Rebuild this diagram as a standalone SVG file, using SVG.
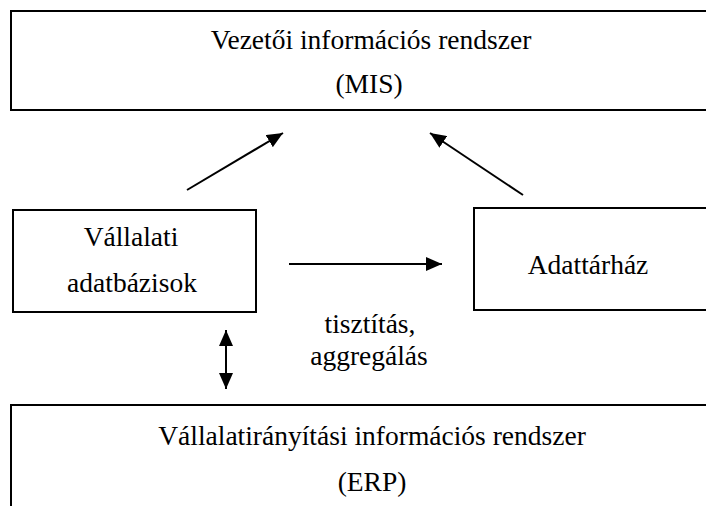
<svg xmlns="http://www.w3.org/2000/svg" width="706" height="506" viewBox="0 0 706 506">
  <style>
    .box { fill: #ffffff; stroke: #000000; stroke-width: 2; }
    .lbl { font-family: 'Liberation Serif', 'DejaVu Serif', serif; font-size: 27.5px; fill: #000000; text-anchor: middle; }
    .conn { stroke: #000000; stroke-width: 2; fill: none; }
  </style>
  <defs>
    <marker id="head" viewBox="0 0 10 10" refX="10" refY="5" markerWidth="16" markerHeight="14" markerUnits="userSpaceOnUse" orient="auto-start-reverse" preserveAspectRatio="none">
      <path d="M0,0 L10,5 L0,10 Z" fill="#000000"/>
    </marker>
  </defs>
  <rect width="706" height="506" fill="#ffffff"/>

  <g id="mis">
    <rect class="box" x="11" y="11" width="710" height="99"/>
    <text class="lbl" x="371" y="49">Vezetői információs rendszer</text>
    <text class="lbl" x="369" y="93">(MIS)</text>
  </g>

  <g id="vallalati-adatbazisok">
    <rect class="box" x="13" y="210" width="243" height="102"/>
    <text class="lbl" x="131" y="246">Vállalati</text>
    <text class="lbl" x="132" y="292">adatbázisok</text>
  </g>

  <g id="adattarhaz">
    <rect class="box" x="474" y="208" width="250" height="102"/>
    <text class="lbl" x="588" y="274">Adattárház</text>
  </g>

  <g id="erp">
    <rect class="box" x="11" y="405" width="710" height="120"/>
    <text class="lbl" x="372" y="445">Vállalatirányítási információs rendszer</text>
    <text class="lbl" x="372" y="491">(ERP)</text>
  </g>

  <g id="label-tisztitas">
    <text class="lbl" x="370" y="333">tisztítás,</text>
    <text class="lbl" x="369" y="365">aggregálás</text>
  </g>

  <g id="connectors">
    <line class="conn" x1="187" y1="190" x2="283" y2="133" marker-end="url(#head)"/>
    <line class="conn" x1="523" y1="195" x2="430" y2="133" marker-end="url(#head)"/>
    <line class="conn" x1="289" y1="264" x2="442" y2="264" marker-end="url(#head)"/>
    <line class="conn" x1="226" y1="330" x2="226" y2="389" marker-start="url(#head)" marker-end="url(#head)"/>
  </g>
</svg>
